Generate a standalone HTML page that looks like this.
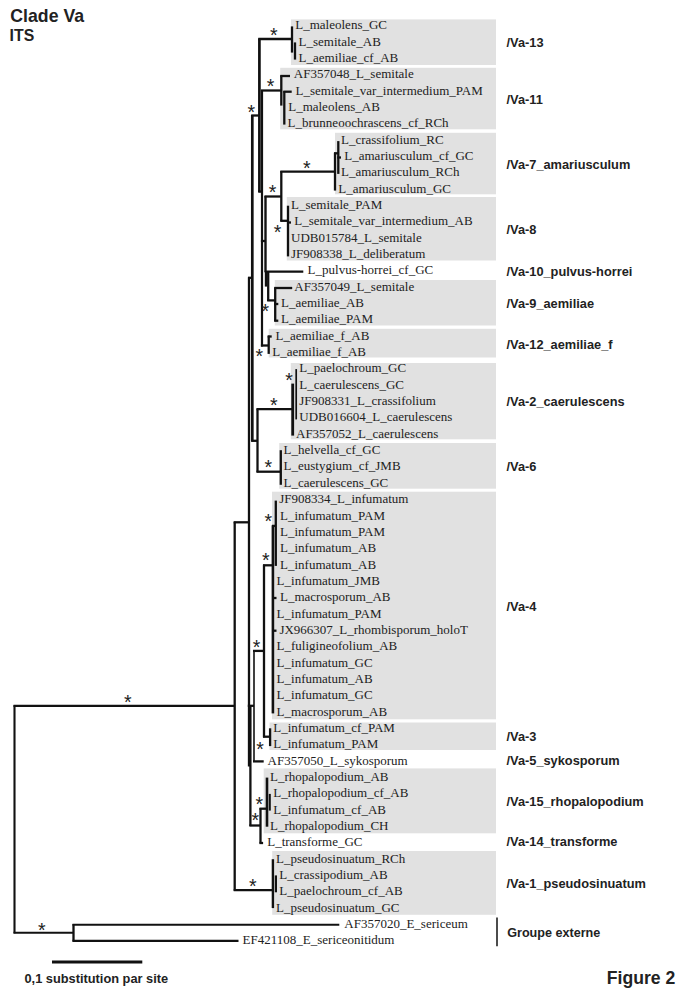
<!DOCTYPE html>
<html><head><meta charset="utf-8"><title>Figure 2</title>
<style>
html,body{margin:0;padding:0;background:#fff}
svg{display:block}
.t{font-family:"Liberation Serif",serif;font-size:13px;fill:#222}
.c{font-family:"Liberation Sans",sans-serif;font-weight:bold;font-size:12.8px;fill:#222}
.s{font-family:"Liberation Sans",sans-serif;font-size:19.5px;fill:#222;text-anchor:middle}
.l{stroke:#111;fill:none}
</style></head><body>
<svg width="690" height="997" viewBox="0 0 690 997">
<rect width="690" height="997" fill="#fff"/>
<g fill="#e1e1e1">
<rect x="291.0" y="19.4" width="205.0" height="45.6"/>
<rect x="280.2" y="67.8" width="215.8" height="61.5"/>
<rect x="335.0" y="132.8" width="161.0" height="61.5"/>
<rect x="286.8" y="197.0" width="209.2" height="63.5"/>
<rect x="274.8" y="280.0" width="221.2" height="45.5"/>
<rect x="268.7" y="328.8" width="227.3" height="28.7"/>
<rect x="290.8" y="363.0" width="205.2" height="76.3"/>
<rect x="279.2" y="443.0" width="216.8" height="45.7"/>
<rect x="272.0" y="491.7" width="224.0" height="227.6"/>
<rect x="269.5" y="722.5" width="226.5" height="27.5"/>
<rect x="263.7" y="768.4" width="232.3" height="64.9"/>
<rect x="272.2" y="851.0" width="223.8" height="63.8"/>
</g>
<g class="l">
<line x1="14.5" y1="705.2" x2="14.5" y2="933.3" stroke-width="2.1"/>
<line x1="73.5" y1="924.1" x2="73.5" y2="941.5" stroke-width="2.3"/>
<line x1="234.7" y1="521.7" x2="234.7" y2="890.7" stroke-width="2.3"/>
<line x1="272.9" y1="859.2" x2="272.9" y2="908.1" stroke-width="2.4"/>
<line x1="275.9" y1="875.4" x2="275.9" y2="892.3" stroke-width="2.2"/>
<line x1="249.0" y1="277.2" x2="249.0" y2="766.6" stroke-width="2.3"/>
<line x1="252.3" y1="114.9" x2="252.3" y2="441.4" stroke-width="2.7"/>
<line x1="259.4" y1="38.4" x2="259.4" y2="192.2" stroke-width="2.7"/>
<line x1="292.0" y1="26.4" x2="292.0" y2="52.6" stroke-width="2.3"/>
<line x1="295.0" y1="42.4" x2="295.0" y2="59.6" stroke-width="2.3"/>
<line x1="262.0" y1="89.9" x2="262.0" y2="346.5" stroke-width="2.2"/>
<line x1="281.3" y1="75.4" x2="281.3" y2="105.6" stroke-width="2.3"/>
<line x1="284.3" y1="91.1" x2="284.3" y2="124.6" stroke-width="2.3"/>
<line x1="265.5" y1="195.9" x2="265.5" y2="272.3" stroke-width="2.4"/>
<line x1="266.0" y1="271.1" x2="266.0" y2="286.6" stroke-width="2.4"/>
<line x1="281.3" y1="171.1" x2="281.3" y2="221.4" stroke-width="2.3"/>
<line x1="335.0" y1="152.7" x2="335.0" y2="190.6" stroke-width="2.3"/>
<line x1="338.3" y1="141.1" x2="338.3" y2="173.9" stroke-width="2.3"/>
<line x1="288.0" y1="205.7" x2="288.0" y2="256.4" stroke-width="2.3"/>
<line x1="268.2" y1="271.1" x2="268.2" y2="301.0" stroke-width="2.3"/>
<line x1="275.2" y1="287.4" x2="275.2" y2="321.3" stroke-width="2.3"/>
<line x1="268.7" y1="335.7" x2="268.7" y2="353.9" stroke-width="2.3"/>
<line x1="257.5" y1="408.6" x2="257.5" y2="472.3" stroke-width="2.3"/>
<line x1="292.7" y1="383.6" x2="292.7" y2="435.6" stroke-width="2.8"/>
<line x1="296.2" y1="369.1" x2="296.2" y2="419.4" stroke-width="1.7"/>
<line x1="280.8" y1="450.2" x2="280.8" y2="484.8" stroke-width="2.3"/>
<line x1="250.4" y1="705.2" x2="250.4" y2="826.1" stroke-width="2.3"/>
<line x1="254.0" y1="650.3" x2="254.0" y2="762.0" stroke-width="1.6"/>
<line x1="264.0" y1="564.7" x2="264.0" y2="737.3" stroke-width="2.3"/>
<line x1="272.9" y1="525.3" x2="272.9" y2="713.4" stroke-width="2.6"/>
<line x1="275.8" y1="500.6" x2="275.8" y2="565.9" stroke-width="2.3"/>
<line x1="270.1" y1="728.3" x2="270.1" y2="746.1" stroke-width="2.3"/>
<line x1="260.5" y1="808.1" x2="260.5" y2="843.6" stroke-width="2.3"/>
<line x1="267.0" y1="777.6" x2="267.0" y2="826.7" stroke-width="2.6"/>
<line x1="269.8" y1="793.9" x2="269.8" y2="810.6" stroke-width="2.0"/>
<line x1="497.0" y1="917.4" x2="497.0" y2="946.3" stroke-width="1.5"/>
<line x1="13.5" y1="932.7" x2="73.5" y2="932.7" stroke-width="2.1"/>
<line x1="72.5" y1="924.8" x2="339.3" y2="924.8" stroke-width="2.1"/>
<line x1="72.5" y1="940.9" x2="238.5" y2="940.9" stroke-width="2.1"/>
<line x1="13.5" y1="705.8" x2="234.7" y2="705.8" stroke-width="2.3"/>
<line x1="233.7" y1="890.1" x2="272.9" y2="890.1" stroke-width="2.3"/>
<line x1="233.7" y1="522.3" x2="249.0" y2="522.3" stroke-width="2.3"/>
<line x1="248.0" y1="277.8" x2="252.2" y2="277.8" stroke-width="2.3"/>
<line x1="251.2" y1="115.5" x2="259.3" y2="115.5" stroke-width="2.3"/>
<line x1="258.3" y1="39.0" x2="292.0" y2="39.0" stroke-width="2.3"/>
<line x1="260.9" y1="90.5" x2="281.3" y2="90.5" stroke-width="2.3"/>
<line x1="280.3" y1="76.0" x2="290.0" y2="76.0" stroke-width="2.3"/>
<line x1="283.3" y1="91.7" x2="291.7" y2="91.7" stroke-width="2.3"/>
<line x1="258.3" y1="191.6" x2="261.9" y2="191.6" stroke-width="2.3"/>
<line x1="264.5" y1="196.5" x2="281.3" y2="196.5" stroke-width="2.3"/>
<line x1="280.3" y1="171.7" x2="335.0" y2="171.7" stroke-width="2.3"/>
<line x1="334.0" y1="153.3" x2="338.3" y2="153.3" stroke-width="2.3"/>
<line x1="337.3" y1="157.5" x2="341.0" y2="157.5" stroke-width="2.3"/>
<line x1="280.3" y1="220.8" x2="288.0" y2="220.8" stroke-width="2.3"/>
<line x1="287.0" y1="222.5" x2="291.0" y2="222.5" stroke-width="2.3"/>
<line x1="260.9" y1="241.0" x2="265.5" y2="241.0" stroke-width="2.3"/>
<line x1="265.0" y1="271.7" x2="303.3" y2="271.7" stroke-width="2.3"/>
<line x1="267.2" y1="300.4" x2="275.2" y2="300.4" stroke-width="2.3"/>
<line x1="274.2" y1="288.0" x2="292.2" y2="288.0" stroke-width="2.3"/>
<line x1="274.2" y1="304.0" x2="278.3" y2="304.0" stroke-width="2.3"/>
<line x1="274.2" y1="320.7" x2="278.3" y2="320.7" stroke-width="2.3"/>
<line x1="260.9" y1="345.5" x2="268.7" y2="345.5" stroke-width="2.3"/>
<line x1="267.7" y1="336.5" x2="271.7" y2="336.5" stroke-width="2.3"/>
<line x1="251.2" y1="440.8" x2="257.5" y2="440.8" stroke-width="2.3"/>
<line x1="256.5" y1="409.2" x2="293.0" y2="409.2" stroke-width="2.3"/>
<line x1="256.5" y1="471.7" x2="280.8" y2="471.7" stroke-width="2.3"/>
<line x1="247.8" y1="705.8" x2="254.0" y2="705.8" stroke-width="2.3"/>
<line x1="253.0" y1="761.4" x2="263.7" y2="761.4" stroke-width="2.3"/>
<line x1="253.0" y1="650.9" x2="264.0" y2="650.9" stroke-width="2.3"/>
<line x1="263.0" y1="565.3" x2="273.0" y2="565.3" stroke-width="2.3"/>
<line x1="272.0" y1="525.9" x2="276.0" y2="525.9" stroke-width="2.3"/>
<line x1="272.0" y1="598.0" x2="276.5" y2="598.0" stroke-width="2.3"/>
<line x1="272.0" y1="630.7" x2="276.5" y2="630.7" stroke-width="2.3"/>
<line x1="263.0" y1="736.7" x2="270.0" y2="736.7" stroke-width="2.3"/>
<line x1="249.4" y1="825.5" x2="260.5" y2="825.5" stroke-width="2.3"/>
<line x1="259.5" y1="843.0" x2="263.1" y2="843.0" stroke-width="2.3"/>
<line x1="259.5" y1="808.7" x2="267.0" y2="808.7" stroke-width="2.3"/>
<line x1="52" y1="962.1" x2="142.3" y2="962.1" stroke-width="3"/>
</g>
<g class="t">
<text x="295.3" y="29.4">L_maleolens_GC</text>
<text x="298.6" y="45.7">L_semitale_AB</text>
<text x="298.6" y="62.1">L_aemiliae_cf_AB</text>
<text x="293.8" y="78.4">AF357048_L_semitale</text>
<text x="295.5" y="94.7">L_semitale_var_intermedium_PAM</text>
<text x="288.2" y="111.1">L_maleolens_AB</text>
<text x="287.6" y="127.4">L_brunneoochrascens_cf_RCh</text>
<text x="341.0" y="143.7">L_crassifolium_RC</text>
<text x="344.3" y="160.1">L_amariusculum_cf_GC</text>
<text x="341.0" y="176.4">L_amariusculum_RCh</text>
<text x="338.3" y="192.8">L_amariusculum_GC</text>
<text x="291.0" y="209.1">L_semitale_PAM</text>
<text x="294.3" y="225.4">L_semitale_var_intermedium_AB</text>
<text x="291.0" y="241.8">UDB015784_L_semitale</text>
<text x="291.0" y="258.1">JF908338_L_deliberatum</text>
<text x="307.6" y="274.4">L_pulvus-horrei_cf_GC</text>
<text x="294.3" y="290.8">AF357049_L_semitale</text>
<text x="281.0" y="307.1">L_aemiliae_AB</text>
<text x="281.0" y="323.4">L_aemiliae_PAM</text>
<text x="275.5" y="339.8">L_aemiliae_f_AB</text>
<text x="272.2" y="356.1">L_aemiliae_f_AB</text>
<text x="299.3" y="372.4">L_paelochroum_GC</text>
<text x="299.3" y="388.8">L_caerulescens_GC</text>
<text x="299.3" y="405.1">JF908331_L_crassifolium</text>
<text x="299.3" y="421.4">UDB016604_L_caerulescens</text>
<text x="296.0" y="437.8">AF357052_L_caerulescens</text>
<text x="283.6" y="454.1">L_helvella_cf_GC</text>
<text x="283.6" y="470.4">L_eustygium_cf_JMB</text>
<text x="283.6" y="486.8">L_caerulescens_GC</text>
<text x="279.2" y="503.1">JF908334_L_infumatum</text>
<text x="280.0" y="519.5">L_infumatum_PAM</text>
<text x="280.0" y="535.8">L_infumatum_PAM</text>
<text x="280.0" y="552.1">L_infumatum_AB</text>
<text x="280.0" y="568.5">L_infumatum_AB</text>
<text x="276.6" y="584.8">L_infumatum_JMB</text>
<text x="280.0" y="601.1">L_macrosporum_AB</text>
<text x="276.6" y="617.5">L_infumatum_PAM</text>
<text x="279.4" y="633.8">JX966307_L_rhombisporum_holoT</text>
<text x="276.6" y="650.1">L_fuligineofolium_AB</text>
<text x="276.6" y="666.5">L_infumatum_GC</text>
<text x="276.6" y="682.8">L_infumatum_AB</text>
<text x="276.6" y="699.1">L_infumatum_GC</text>
<text x="276.6" y="715.5">L_macrosporum_AB</text>
<text x="273.3" y="731.8">L_infumatum_cf_PAM</text>
<text x="273.3" y="748.1">L_infumatum_PAM</text>
<text x="267.6" y="764.5">AF357050_L_sykosporum</text>
<text x="270.0" y="780.8">L_rhopalopodium_AB</text>
<text x="273.3" y="797.1">L_rhopalopodium_cf_AB</text>
<text x="273.3" y="813.5">L_infumatum_cf_AB</text>
<text x="270.0" y="829.8">L_rhopalopodium_CH</text>
<text x="267.2" y="846.1">L_transforme_GC</text>
<text x="276.0" y="862.5">L_pseudosinuatum_RCh</text>
<text x="279.3" y="878.8">L_crassipodium_AB</text>
<text x="279.3" y="895.2">L_paelochroum_cf_AB</text>
<text x="276.0" y="911.5">L_pseudosinuatum_GC</text>
<text x="344.3" y="927.8">AF357020_E_sericeum</text>
<text x="242.6" y="944.2">EF421108_E_sericeonitidum</text>
</g>
<g class="c">
<text x="506.5" y="47.2">/Va-13</text>
<text x="506.5" y="103.8">/Va-11</text>
<text x="506.5" y="168.8">/Va-7_amariusculum</text>
<text x="506.5" y="233.8">/Va-8</text>
<text x="506.5" y="275.5">/Va-10_pulvus-horrei</text>
<text x="506.5" y="307.8">/Va-9_aemiliae</text>
<text x="506.5" y="348.8">/Va-12_aemiliae_f</text>
<text x="506.5" y="406.2">/Va-2_caerulescens</text>
<text x="506.5" y="471.2">/Va-6</text>
<text x="506.5" y="610.5">/Va-4</text>
<text x="506.5" y="741.2">/Va-3</text>
<text x="506.5" y="765.0">/Va-5_sykosporum</text>
<text x="506.5" y="805.5">/Va-15_rhopalopodium</text>
<text x="506.5" y="846.2">/Va-14_transforme</text>
<text x="506.5" y="887.8">/Va-1_pseudosinuatum</text>
<text x="507.2" y="936.8" style="font-size:12.6px">Groupe externe</text>
<text x="24.5" y="982.5">0,1 substitution par site</text>
<text x="10.3" y="21.9" style="font-size:17.7px">Clade Va</text>
<text x="9.6" y="41.2" style="font-size:15.8px">ITS</text>
<text x="606.8" y="984.4" style="font-size:17.6px">Figure 2</text>
</g>
<g class="s">
<text x="273.9" y="42.0">*</text>
<text x="270.5" y="92.6">*</text>
<text x="251.3" y="118.9">*</text>
<text x="306.7" y="174.5">*</text>
<text x="272.5" y="199.0">*</text>
<text x="277.5" y="238.5">*</text>
<text x="265.2" y="318.0">*</text>
<text x="259.3" y="362.6">*</text>
<text x="289.0" y="386.8">*</text>
<text x="273.7" y="411.8">*</text>
<text x="268.3" y="474.3">*</text>
<text x="268.3" y="528.3">*</text>
<text x="265.8" y="566.8">*</text>
<text x="256.5" y="653.6">*</text>
<text x="260.1" y="755.6">*</text>
<text x="259.3" y="811.3">*</text>
<text x="255.2" y="827.4">*</text>
<text x="252.7" y="892.6">*</text>
<text x="127.7" y="708.9">*</text>
<text x="41.7" y="936.8">*</text>
</g>
</svg>
</body></html>
